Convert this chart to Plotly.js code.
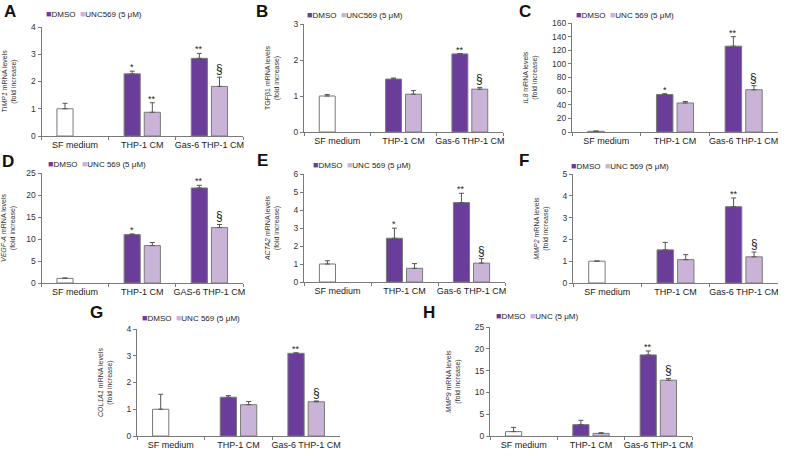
<!DOCTYPE html>
<html><head><meta charset="utf-8">
<script src="https://cdn.plot.ly/plotly-3.0.1.min.js"></script>
<style>html,body{margin:0;padding:0;background:#fff}#chart{width:787px;height:456px}</style>
</head><body><div id="chart"></div>
<script>
// ---------- data ----------
const categories = ['SF medium', 'THP-1 CM', 'Gas-6 THP-1 CM'];
const categoriesD = ['SF medium', 'THP-1 CM', 'GAS-6 THP-1 CM'];
const treatedCats = [1, 2]; // indices of THP-1 CM and Gas-6 THP-1 CM
const panelLetters = ['A', 'B', 'C', 'D', 'E', 'F', 'G', 'H'];
const geneTitles = ['<i>TIMP1</i> mRNA levels', 'TGFβ1 mRNA levels', '<i>IL8</i> mRNA levels', '<i>VEGF-A</i> mRNA levels',
  '<i>ACTA2</i> mRNA levels', '<i>MMP2</i> mRNA levels', '<i>COL1A1</i> mRNA levels', '<i>MMP9</i> mRNA levels'];
const yTitleLine2 = '(fold increase)';
const dmsoLabel = 'DMSO';
const uncLabels = ['UNC569 (5 μM)', 'UNC569 (5 μM)', 'UNC 569 (5 μM)', 'UNC 569 (5 μM)', 'UNC 569 (5 μM)',
  'UNC 569 (5 μM)', 'UNC 569 (5 μM)', 'UNC (5 μM)'];
const yMax = [4, 3, 160, 25, 6, 5, 4, 25];
const yStep = [1, 1, 20, 5, 1, 1, 1, 5];
const sfMean = [1.0, 1.0, 1.0, 1.05, 1.0, 1.0, 1.0, 1.0];
const sfErr = [0.2, 0.04, 0.4, 0.1, 0.18, 0.01, 0.56, 0.98];
const dmsoMean = [[2.28, 2.85], [1.47, 2.17], [55, 126], [11.0, 21.6], [2.43, 4.41], [1.52, 3.5], [1.45, 3.09], [2.6, 18.6]];
const dmsoErr = [[0.1, 0.18], [0.03, 0.01], [1.2, 14], [0.15, 0.6], [0.56, 0.52], [0.34, 0.4], [0.06, 0.02], [1.0, 0.9]];
const uncMean = [[0.87, 1.82], [1.05, 1.19], [42.6, 62], [8.5, 12.6], [0.76, 1.05], [1.07, 1.2], [1.17, 1.28], [0.6, 12.8]];
const uncErr = [[0.35, 0.34], [0.1, 0.05], [2.2, 6], [0.7, 0.7], [0.26, 0.25], [0.23, 0.22], [0.12, 0.03], [0.15, 0.4]];
const dmsoMarks = [['*', '**'], ['', '**'], ['*', '**'], ['*', '**'], ['*', '**'], ['', '**'], ['', '**'], ['', '**']];
const uncMarks = [['**', '§'], ['', '§'], ['', '§'], ['', '§'], ['', '§'], ['', '§'], ['', '§'], ['', '§']];

// ---------- layout geometry (pixels) ----------
const W = 787, H = 456;
// [left, right, top, bottom] of each plot area
const boxes = [[41.5, 243, 27, 136], [304, 503, 24, 132], [572, 778, 23, 132],
  [41.5, 243, 173, 283], [304, 505, 174, 282], [573, 778, 174, 283],
  [137, 340, 329, 436], [490, 692, 327, 436]];
const letterPos = [[10, 11], [262, 11], [525, 11], [8, 161], [262, 160], [524, 160], [96, 312], [429, 312]];
const legendPos = [[44, 14], [305, 15], [574, 15], [46, 164], [311, 165], [569, 166], [140, 318], [494, 316]];

const DARK = '#6a3d9a', LIGHT = '#c9b4d8', EDGE = '#7a7a7a';
const FONT = 'Liberation Sans, Arial, sans-serif';
const BW = 0.24, DOFF = -0.27, UOFF = 0.03;

const data = [];
const layout = {
  width: W, height: H, margin: {l: 0, r: 0, t: 0, b: 0},
  paper_bgcolor: '#fff', plot_bgcolor: 'rgba(0,0,0,0)',
  showlegend: false, barmode: 'overlay',
  font: {family: FONT, color: '#222'},
  annotations: []
};

for (let i = 0; i < 8; i++) {
  const sfx = i === 0 ? '' : String(i + 1);
  const xa = 'x' + sfx, ya = 'y' + sfx;
  const cats = i === 3 ? categoriesD : categories;
  const tc = treatedCats.map(k => cats[k]);
  const errStyle = {type: 'data', symmetric: false, color: '#555', thickness: 1, width: 2.5};

  data.push({type: 'bar', name: 'SF medium', x: [cats[0]], y: [sfMean[i]], xaxis: xa, yaxis: ya,
    offset: DOFF, width: BW, marker: {color: '#ffffff', line: {color: EDGE, width: 1}},
    error_y: Object.assign({array: [sfErr[i]], arrayminus: [0]}, errStyle), hoverinfo: 'x+y'});
  data.push({type: 'bar', name: dmsoLabel, x: tc, y: dmsoMean[i], xaxis: xa, yaxis: ya,
    offset: DOFF, width: BW, marker: {color: DARK, line: {color: EDGE, width: 1}},
    error_y: Object.assign({array: dmsoErr[i], arrayminus: [0, 0]}, errStyle)});
  data.push({type: 'bar', name: uncLabels[i], x: tc, y: uncMean[i], xaxis: xa, yaxis: ya,
    offset: UOFF, width: BW, marker: {color: LIGHT, line: {color: EDGE, width: 1}},
    error_y: Object.assign({array: uncErr[i], arrayminus: [0, 0]}, errStyle)});

  const b = boxes[i];
  layout['xaxis' + sfx] = {
    domain: [b[0] / W, b[1] / W], anchor: ya, type: 'category',
    categoryorder: 'array', categoryarray: cats, range: [-0.5, 2.5],
    showline: true, linecolor: EDGE, linewidth: 1, ticks: 'outside', tickson: 'boundaries',
    ticklen: 3, tickcolor: EDGE, showgrid: false, zeroline: false, fixedrange: true, tickangle: 0,
    tickfont: {size: 9, color: '#222', family: FONT}, automargin: false
  };
  layout['yaxis' + sfx] = {
    domain: [1 - b[3] / H, 1 - b[2] / H], anchor: xa, range: [0, yMax[i]],
    tick0: 0, dtick: yStep[i], showline: true, linecolor: EDGE, linewidth: 1,
    ticks: 'outside', ticklen: 3, tickcolor: EDGE, showgrid: false, zeroline: false,
    fixedrange: true, tickfont: {size: 8.5, color: '#333', family: FONT}, automargin: false,
    title: {text: geneTitles[i] + '<br>' + yTitleLine2, font: {size: 7, color: '#333', family: FONT}, standoff: 13}
  };

  // panel letter
  layout.annotations.push({xref: 'paper', yref: 'paper', x: letterPos[i][0] / W, y: 1 - letterPos[i][1] / H,
    xanchor: 'center', yanchor: 'middle', showarrow: false, text: '<b>' + panelLetters[i] + '</b>',
    font: {size: 17, color: '#111', family: FONT}});
  // legend
  layout.annotations.push({xref: 'paper', yref: 'paper', x: legendPos[i][0] / W, y: 1 - legendPos[i][1] / H,
    xanchor: 'left', yanchor: 'middle', showarrow: false,
    text: '<span style="color:' + DARK + ';font-size:9px">■</span>' + dmsoLabel + '  ' +
      '<span style="color:' + LIGHT + ';font-size:9px">■</span>' + uncLabels[i],
    font: {size: 8, color: '#222', family: FONT}});
  // significance marks
  for (let k = 0; k < 2; k++) {
    const cx = treatedCats[k];
    if (dmsoMarks[i][k]) layout.annotations.push({xref: xa, yref: ya, x: cx + DOFF + BW / 2,
      y: dmsoMean[i][k] + dmsoErr[i][k], yanchor: 'bottom', xanchor: 'center', showarrow: false,
      text: dmsoMarks[i][k], yshift: -3, font: {size: 9, color: '#222', family: FONT}});
    if (uncMarks[i][k]) {
      const isS = uncMarks[i][k] === '§';
      layout.annotations.push({xref: xa, yref: ya, x: cx + UOFF + BW / 2,
        y: uncMean[i][k] + uncErr[i][k], yanchor: 'bottom', xanchor: 'center', showarrow: false,
        text: uncMarks[i][k], yshift: isS ? -1 : -3, font: {size: isS ? 12 : 9, color: '#222', family: FONT}});
    }
  }
}

Plotly.newPlot('chart', data, layout, {staticPlot: true, displayModeBar: false});
</script></body></html>
